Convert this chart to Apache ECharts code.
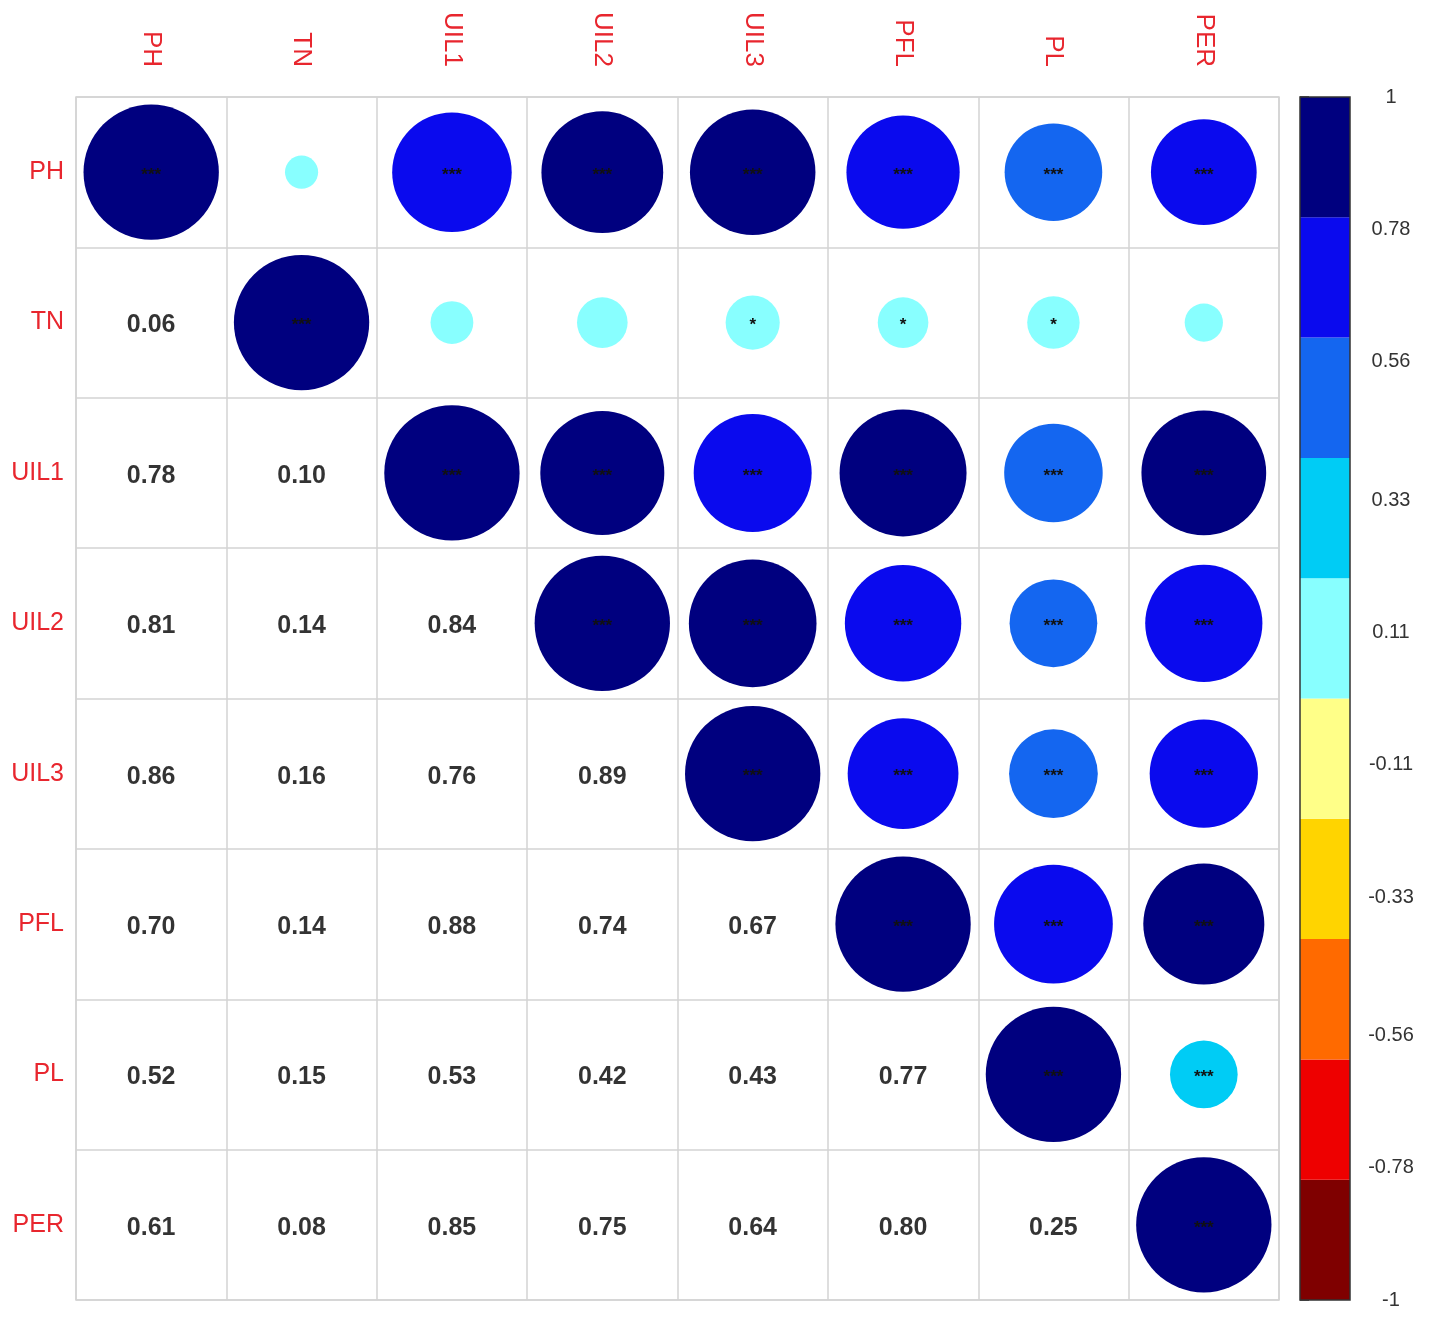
<!DOCTYPE html>
<html>
<head>
<meta charset="utf-8">
<script src="https://cdn.jsdelivr.net/npm/echarts@6/dist/echarts.min.js"></script>
<style>
html,body{margin:0;padding:0;background:#fff;}
#c{width:1429px;height:1322px;}
</style>
</head>
<body>
<div id="c"></div>
<script>
// ---- data ----
const vars = ['PH', 'TN', 'UIL1', 'UIL2', 'UIL3', 'PFL', 'PL', 'PER'];
// lower-triangle correlations (row i, columns 0..i)
const rowPH   = [1];
const rowTN   = [0.06, 1];
const rowUIL1 = [0.78, 0.10, 1];
const rowUIL2 = [0.81, 0.14, 0.84, 1];
const rowUIL3 = [0.86, 0.16, 0.76, 0.89, 1];
const rowPFL  = [0.70, 0.14, 0.88, 0.74, 0.67, 1];
const rowPL   = [0.52, 0.15, 0.53, 0.42, 0.43, 0.77, 1];
const rowPER  = [0.61, 0.08, 0.85, 0.75, 0.64, 0.80, 0.25, 1];
// significance marks for upper triangle (row i, columns i..7)
const sigPH   = ['***', '', '***', '***', '***', '***', '***', '***'];
const sigTN   = ['***', '', '', '*', '*', '*', ''];
const sigUIL1 = ['***', '***', '***', '***', '***', '***'];
const sigUIL2 = ['***', '***', '***', '***', '***'];
const sigUIL3 = ['***', '***', '***', '***'];
const sigPFL  = ['***', '***', '***'];
const sigPL   = ['***', '***'];
const sigPER  = ['***'];
// colour bins
const binEdges = [-1, -0.8, -0.6, -0.4, -0.2, 0, 0.2, 0.4, 0.6, 0.8, 1];
const binColors = ['#7F0000', '#EE0000', '#FF6A00', '#FFD400', '#FFFF88',
                   '#88FFFF', '#00CCF5', '#1466F0', '#0A0AEE', '#00007F'];
// colour-bar tick labels
const barTicks = [-1, -0.78, -0.56, -0.33, -0.11, 0.11, 0.33, 0.56, 0.78, 1];

// ---- build ----
const rows = [rowPH, rowTN, rowUIL1, rowUIL2, rowUIL3, rowPFL, rowPL, rowPER];
const sigs = [sigPH, sigTN, sigUIL1, sigUIL2, sigUIL3, sigPFL, sigPL, sigPER];
const n = vars.length;
function r(i, j) { return i >= j ? rows[i][j] : rows[j][i]; }

const circleData = [];
const textData = [];
for (let i = 0; i < n; i++) {
  for (let j = 0; j < n; j++) {
    if (j >= i) circleData.push([vars[j], vars[i], r(i, j), sigs[i][j - i]]);
    else textData.push([vars[j], vars[i], r(i, j)]);
  }
}
const pieces = [];
for (let k = 0; k < binColors.length; k++) {
  const p = { gte: binEdges[k], color: binColors[k] };
  if (k === binColors.length - 1) p.lte = binEdges[k + 1]; else p.lt = binEdges[k + 1];
  pieces.push(p);
}
const barData = binColors.map((c, k) => [binEdges[k], binEdges[k + 1], k]);

const RED = '#E8262E';
const FONT = '"Liberation Sans", Arial, sans-serif';
const chart = echarts.init(document.getElementById('c'), null, { renderer: 'canvas' });
const cell = 1203 / n;

chart.setOption({
  animation: false,
  backgroundColor: '#fff',
  textStyle: { fontFamily: FONT },
  grid: [
    { left: 76, top: 97, width: 1203, height: 1203, show: true, borderColor: '#D3D3D3', borderWidth: 1.5, backgroundColor: 'transparent' },
    { left: 1300, top: 97, width: 50, height: 1203 }
  ],
  xAxis: [
    { type: 'category', data: vars, gridIndex: 0, position: 'top', boundaryGap: true,
      axisLine: { show: false }, axisTick: { show: false },
      splitLine: { show: true, interval: 0, lineStyle: { color: '#D3D3D3', width: 1.5 } },
      axisLabel: { rotate: 90, color: RED, fontSize: 26, margin: 30, fontFamily: FONT, interval: 0 } },
    { type: 'value', gridIndex: 1, min: 0, max: 1, show: false }
  ],
  yAxis: [
    { type: 'category', data: vars, gridIndex: 0, inverse: true, boundaryGap: true,
      axisLine: { show: false }, axisTick: { show: false },
      splitLine: { show: true, interval: 0, lineStyle: { color: '#D3D3D3', width: 1.5 } },
      axisLabel: { color: RED, fontSize: 25, margin: 12, fontFamily: FONT, interval: 0 } },
    { type: 'value', gridIndex: 1, min: -1, max: 1, position: 'right',
      axisLine: { show: false }, splitLine: { show: false },
      axisTick: { show: true, length: 9, customValues: barTicks, lineStyle: { color: '#333', width: 1.5 } },
      axisLabel: { customValues: barTicks, color: '#333', fontSize: 20, margin: 41, align: 'center', fontFamily: FONT,
                   formatter: v => { const s = (+v).toFixed(2); return s === '1.00' ? '1' : (s === '-1.00' ? '-1' : s); } } }
  ],
  visualMap: {
    type: 'piecewise', show: false, dimension: 2, seriesIndex: 0, pieces: pieces
  },
  series: [
    {
      type: 'scatter', xAxisIndex: 0, yAxisIndex: 0, data: circleData,
      symbol: 'circle',
      symbolSize: d => cell * 0.9 * Math.sqrt(Math.abs(d[2])),
      itemStyle: { opacity: 1 },
      label: { show: true, position: 'inside', formatter: p => p.data[3], color: '#111', fontSize: 17, fontWeight: 'bold', offset: [0, 3], fontFamily: FONT },
      z: 3
    },
    {
      type: 'scatter', xAxisIndex: 0, yAxisIndex: 0, data: textData,
      symbolSize: 1, itemStyle: { color: 'rgba(0,0,0,0)' },
      label: { show: true, position: 'inside', formatter: p => p.data[2].toFixed(2), color: '#000', fontSize: 25, fontWeight: 'bold', fontFamily: FONT, offset: [0, 3], textBorderWidth: 0 },
      z: 3
    },
    {
      type: 'custom', xAxisIndex: 1, yAxisIndex: 1, data: barData,
      renderItem: (params, api) => {
        const p0 = api.coord([0, api.value(0)]);
        const p1 = api.coord([1, api.value(1)]);
        return { type: 'rect', shape: { x: p0[0], y: p1[1], width: p1[0] - p0[0], height: p0[1] - p1[1] },
                 style: { fill: binColors[api.value(2)] } };
      },
      z: 2
    },
    {
      type: 'custom', xAxisIndex: 1, yAxisIndex: 1, data: [[binEdges[0], binEdges[binEdges.length - 1]]],
      renderItem: (params, api) => {
        const p0 = api.coord([0, api.value(0)]);
        const p1 = api.coord([1, api.value(1)]);
        return { type: 'rect', shape: { x: p0[0], y: p1[1], width: p1[0] - p0[0], height: p0[1] - p1[1] },
                 style: { fill: 'none', stroke: '#333', lineWidth: 1.5 } };
      },
      z: 4
    }
  ]
});
</script>
</body>
</html>
